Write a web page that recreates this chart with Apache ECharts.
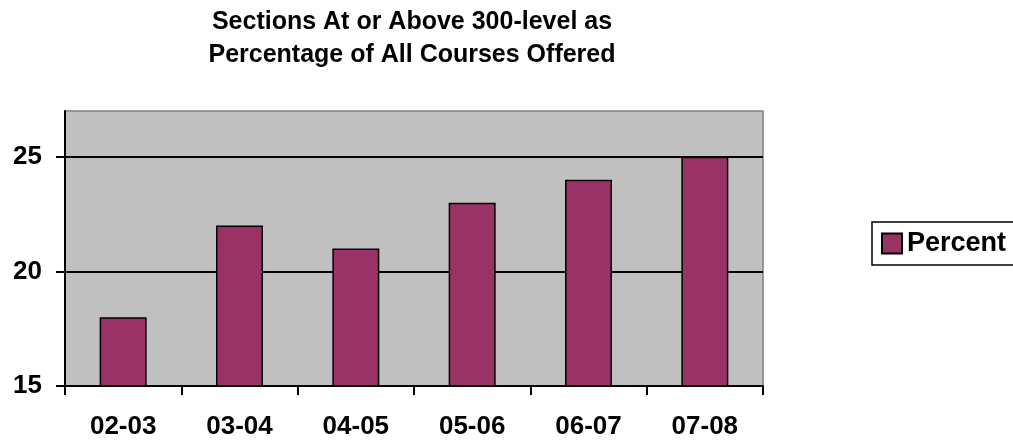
<!DOCTYPE html>
<html>
<head>
<meta charset="utf-8">
<script src="https://cdn.jsdelivr.net/npm/echarts@6/dist/echarts.min.js"></script>
<style>html,body{margin:0;padding:0;background:#fff;}#c{width:1013px;height:444px;}</style>
</head>
<body>
<div id="c"></div>
<script>
var categories = ['02-03', '03-04', '04-05', '05-06', '06-07', '07-08'];
var percentValues = [18, 22, 21, 23, 24, 25];
var yTicks = [15, 20, 25];

var chart = echarts.init(document.getElementById('c'));
var font = '"Liberation Sans", Arial, sans-serif';
chart.setOption({
  animation: false,
  backgroundColor: '#ffffff',
  textStyle: { fontFamily: font },
  title: {
    text: 'Sections At or Above 300-level as\nPercentage of All Courses Offered',
    left: 412,
    top: 6,
    textAlign: 'center',
    padding: 0,
    textStyle: { fontSize: 25, fontWeight: 'bold', color: '#000', lineHeight: 33, fontFamily: font }
  },
  legend: {
    data: ['Percent'],
    left: 872,
    top: 222,
    orient: 'vertical',
    borderColor: '#000',
    borderWidth: 1.5,
    padding: [8, 9, 8, 9],
    itemWidth: 20,
    itemHeight: 20,
    icon: 'rect',
    textStyle: { fontSize: 27, fontWeight: 'bold', color: '#000', fontFamily: font }
  },
  grid: { left: 65, right: 250, top: 111, bottom: 58, show: true, backgroundColor: '#c0c0c0', borderColor: '#808080', borderWidth: 1.5 },
  xAxis: {
    type: 'category',
    data: categories,
    boundaryGap: true,
    axisLine: { show: true, lineStyle: { color: '#000', width: 2 } },
    axisTick: { show: true, length: 9, lineStyle: { color: '#000', width: 2 } },
    axisLabel: { margin: 28, fontSize: 26, fontWeight: 'bold', color: '#000', fontFamily: font },
    splitLine: { show: false }
  },
  yAxis: {
    type: 'value',
    min: 15,
    max: 27,
    interval: 5,
    axisLine: { show: true, lineStyle: { color: '#000', width: 2 } },
    axisTick: { show: true, length: 9, lineStyle: { color: '#000', width: 2 } },
    axisLabel: {
      margin: 23, fontSize: 26, fontWeight: 'bold', color: '#000', fontFamily: font,
      showMaxLabel: false,
      formatter: function (v) { return yTicks.indexOf(v) >= 0 ? String(v) : ''; }
    },
    splitLine: { show: true, showMinLine: false, showMaxLine: false, lineStyle: { color: '#000', width: 2 } }
  },
  series: [{
    name: 'Percent',
    type: 'bar',
    data: percentValues,
    barWidth: 47,
    itemStyle: { color: '#993366', borderColor: '#000', borderWidth: 1.5 }
  }]
});
</script>
</body>
</html>
